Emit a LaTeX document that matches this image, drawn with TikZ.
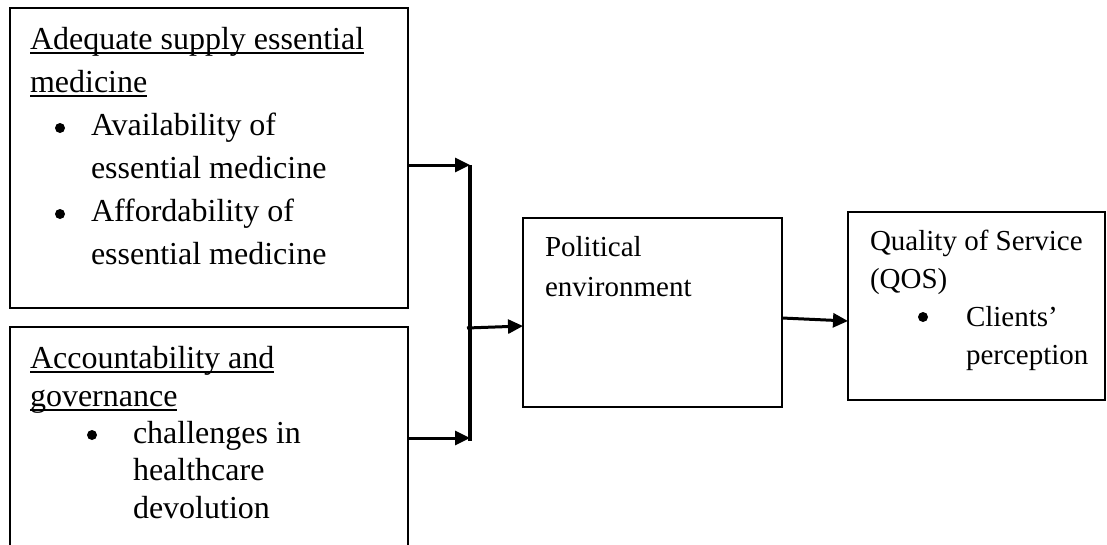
\documentclass[tikz,border=0pt]{standalone}
\usepackage{fontspec}
\setmainfont{Liberation Serif}
\usetikzlibrary{arrows.meta}
\begin{document}
\begin{tikzpicture}[x=1pt,y=-1pt,
  box/.style={draw, line width=2pt, inner sep=0pt, outer sep=0pt, anchor=north west},
  txt/.style={inner sep=0pt, outer sep=0pt, anchor=base west, font=\fontsize{32}{40}\selectfont},
  txts/.style={inner sep=0pt, outer sep=0pt, anchor=base west, font=\fontsize{29}{36}\selectfont},
  bul/.style={circle, fill=black, inner sep=0pt, outer sep=0pt, minimum size=10pt},
  ul/.style={line width=2pt},
  conn/.style={line width=3pt, -{Triangle[length=15pt,width=14pt]}},
  vline/.style={line width=3.5pt}]
\useasboundingbox (0,0) rectangle (1107,544);
\clip (0,0) rectangle (1107,544);
\fill[white] (0,0) rectangle (1107,544);

% boxes
\node[box, minimum width=398pt, minimum height=300pt] (b1) at (10,8) {};
\node[box, minimum width=398pt, minimum height=233pt] (b2) at (10,327) {};
\node[box, minimum width=259pt, minimum height=189pt] (b3) at (523,218) {};
\node[box, minimum width=257pt, minimum height=188pt] (b4) at (848,212) {};

% box 1 text
\node[txt] (t1a) at (30,49) {Adequate supply essential};
\node[txt] (t1b) at (30,92) {medicine};
\node[bul] (p1a) at (60,128) {};
\node[txt] (t1c) at (91,135) {Availability of};
\node[txt] (t1d) at (91,178) {essential medicine};
\node[bul] (p1b) at (60,214) {};
\node[txt] (t1e) at (91,221) {Affordability of};
\node[txt] (t1f) at (91,264) {essential medicine};
\draw[ul] ([yshift=-4pt]t1a.base west) -- ([yshift=-4pt]t1a.base east);
\draw[ul] ([yshift=-4pt]t1b.base west) -- ([yshift=-4pt]t1b.base east);

% box 2 text
\node[txt] (t2a) at (30,368) {Accountability and};
\node[txt] (t2b) at (30,406) {governance};
\node[bul] (p2a) at (92,435) {};
\node[txt] (t2c) at (133,443) {challenges in};
\node[txt] (t2d) at (133,480.5) {healthcare};
\node[txt] (t2e) at (133,518) {devolution};
\draw[ul] ([yshift=-4pt]t2a.base west) -- ([yshift=-4pt]t2a.base east);
\draw[ul] ([yshift=-4pt]t2b.base west) -- ([yshift=-4pt]t2b.base east);

% box 3 text
\node[txts] (t3a) at (545,256) {Political};
\node[txts] (t3b) at (545,296) {environment};

% box 4 text
\node[txts] (t4a) at (870,250) {Quality of Service};
\node[txts] (t4b) at (870,288) {(QOS)};
\node[bul] (p4a) at (923,317) {};
\node[txts] (t4c) at (966,326) {Clients’};
\node[txts] (t4d) at (966,364) {perception};

% connectors
\coordinate (vt) at (470,165);
\coordinate (vb) at (470,441);
\coordinate (a2) at (470,438);
\coordinate (m) at (467,328);
\draw[vline] (vt) -- (vb);
\draw[conn] (b1.east |- vt) -- (vt);
\draw[conn] (b2.east |- a2) -- (a2);
\draw[conn] (m) -- ([yshift=-13.5pt]b3.west);
\draw[conn] ([yshift=-5.5pt]b3.east) -- ([yshift=-15pt]b4.west);
\end{tikzpicture}
\end{document}
